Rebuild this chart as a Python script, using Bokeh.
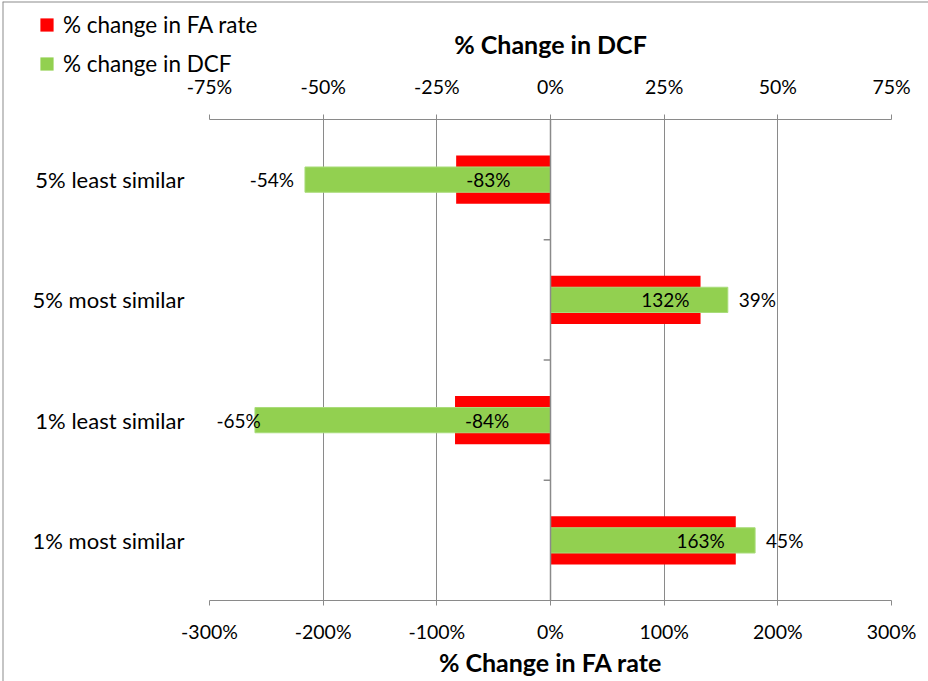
from bokeh.plotting import figure
from bokeh.models import (Range1d, LinearAxis, FixedTicker, PrintfTickFormatter,
                          ColumnDataSource, Span, Legend, LegendItem, GridBox)
from bokeh.embed import file_html
from bokeh.resources import INLINE
from bokeh.core.properties import value

categories = ["5% least similar", "5% most similar", "1% least similar", "1% most similar"]
fa_rate = [-83, 132, -84, 163]      # % change in FA rate (bottom axis)
dcf = [-54, 39, -65, 45]            # % change in DCF (top axis)
fa_ticks = [-300, -200, -100, 0, 100, 200, 300]
dcf_ticks = [-75, -50, -25, 0, 25, 50, 75]
series_names = ["% change in FA rate", "% change in DCF"]

FONT = "Lato"
RED = "#FF0000"
GREEN = "#92D050"
GRID = "#8a8a8a"

n = len(categories)
ypos = [n - i - 0.5 for i in range(n)]

W, H = 928, 681
ML, MR, MT, MB = 209, 37, 119, 81
frame_w = W - ML - MR

p = figure(width=W, height=H, output_backend="svg", toolbar_location=None,
           x_range=Range1d(fa_ticks[0], fa_ticks[-1]), y_range=Range1d(0, n),
           min_border_left=ML, min_border_right=MR, min_border_top=MT, min_border_bottom=MB,
           x_axis_location=None, y_axis_location=None)
p.extra_x_ranges = {"dcf": Range1d(dcf_ticks[0], dcf_ticks[-1])}
p.outline_line_color = None
p.background_fill_color = None
p.border_fill_color = None

bx = LinearAxis(ticker=FixedTicker(ticks=fa_ticks), formatter=PrintfTickFormatter(format="%d%%"),
                axis_label="% Change in FA rate")
tx = LinearAxis(x_range_name="dcf", ticker=FixedTicker(ticks=dcf_ticks),
                formatter=PrintfTickFormatter(format="%d%%"), axis_label="% Change in DCF")
for ax, lab_standoff, title_standoff in ((bx, 14, 1), (tx, 17, 13)):
    ax.axis_line_color = GRID
    ax.axis_line_width = 1
    ax.major_tick_line_color = GRID
    ax.major_tick_out = 5
    ax.major_tick_in = 0
    ax.minor_tick_line_color = None
    ax.major_label_standoff = lab_standoff
    ax.major_label_text_font = FONT
    ax.major_label_text_font_size = "19.5px"
    ax.major_label_text_color = "black"
    ax.axis_label_text_font = FONT
    ax.axis_label_text_font_size = "25px"
    ax.axis_label_text_font_style = "bold"
    ax.axis_label_text_color = "black"
    ax.axis_label_standoff = title_standoff
p.add_layout(bx, "below")
p.add_layout(tx, "above")

ly = LinearAxis(ticker=FixedTicker(ticks=ypos),
                major_label_overrides={y: c for y, c in zip(ypos, categories)})
ly.axis_line_color = None
ly.major_tick_line_color = None
ly.minor_tick_line_color = None
ly.major_label_standoff = 19
ly.major_label_text_font = FONT
ly.major_label_text_font_size = "22px"
ly.major_label_text_color = "black"
p.add_layout(ly, "left")

p.xgrid.ticker = FixedTicker(ticks=fa_ticks)
p.xgrid.grid_line_color = GRID
p.xgrid.grid_line_width = 1
p.ygrid.grid_line_color = None

src = ColumnDataSource(dict(y=ypos, fa=fa_rate, dcf=dcf,
                            fa_lbl=[f"{v}%" for v in fa_rate],
                            dcf_lbl=[f"{v}%" for v in dcf]))

p.hbar(y="y", right="fa", left=0, height=0.4, source=src, fill_color=RED, line_color=None)
p.hbar(y="y", right="dcf", left=0, height=0.21, source=src, x_range_name="dcf",
       fill_color=GREEN, line_color="#a9dc7a", line_width=1)

# category axis line at zero with boundary ticks
p.add_layout(Span(location=0, dimension="height", line_color=GRID, line_width=1.5))
bounds = list(range(1, n))
p.segment(x0=[-6] * len(bounds), x1=[0] * len(bounds), y0=bounds, y1=bounds,
          line_color=GRID, line_width=1.5)

# FA labels: inside end
for v, y, t in zip(fa_rate, ypos, src.data["fa_lbl"]):
    p.text(x=[v], y=[y], text=[t], text_align="left" if v < 0 else "right",
           x_offset=10 if v < 0 else -11, text_baseline="middle",
           text_font=value(FONT), text_font_size="19px", text_color="black")

# DCF labels: outside end, kept inside the plot area
px_per_dcf = frame_w / (dcf_ticks[-1] - dcf_ticks[0])
for v, y, t in zip(dcf, ypos, src.data["dcf_lbl"]):
    est_w = len(t) * 11
    if v < 0:
        room = (v - dcf_ticks[0]) * px_per_dcf
        if room < est_w + 11:
            x, align, off = dcf_ticks[0], "left", 7
        else:
            x, align, off = v, "right", -11
    else:
        x, align, off = v, "left", 11
    p.text(x=[x], y=[y], text=[t], text_align=align, x_offset=off, text_baseline="middle",
           x_range_name="dcf", text_font=value(FONT), text_font_size="19px", text_color="black")

# transparent full-size overlay figure carrying the legend and the chart-area border
BL, BT, BR, BB = 2, 1, 0, 0
lf = figure(width=W, height=H, output_backend="svg", toolbar_location=None,
            x_axis_location=None, y_axis_location=None,
            min_border_left=BL, min_border_top=BT, min_border_right=BR, min_border_bottom=BB,
            x_range=Range1d(0, 1), y_range=Range1d(0, 1))
lf.frame_align = False
lf.outline_line_color = None
lf.background_fill_color = None
lf.border_fill_color = None
lf.xgrid.grid_line_color = None
lf.ygrid.grid_line_color = None
lf.add_layout(Span(location=0, dimension="height", line_color="#8c8c8c", line_width=2))
lf.add_layout(Span(location=1, dimension="width", line_color="#8c8c8c", line_width=2))
nan = float("nan")
lr1 = lf.scatter(x=[nan], y=[nan], marker="square", fill_color=RED, line_color=None)
lr2 = lf.scatter(x=[nan], y=[nan], marker="square", fill_color=GREEN, line_color=None)
ROW = 33
legend = Legend(items=[LegendItem(label=series_names[0], renderers=[lr1]),
                       LegendItem(label=series_names[1], renderers=[lr2])],
                location=(30 - BL, H - BB - 80), orientation="vertical")
legend.glyph_width = ROW
legend.glyph_height = ROW
legend.label_height = ROW
legend.spacing = 6
legend.padding = 0
legend.margin = 0
legend.label_standoff = 0
legend.border_line_color = None
legend.background_fill_alpha = 0
legend.label_text_font = FONT
legend.label_text_font_size = "22.5px"
legend.label_text_color = "black"
lf.add_layout(legend, "center")

layout = GridBox(children=[(p, 0, 0), (lf, 0, 0)])
open("out.html", "w").write(file_html(layout, INLINE))
